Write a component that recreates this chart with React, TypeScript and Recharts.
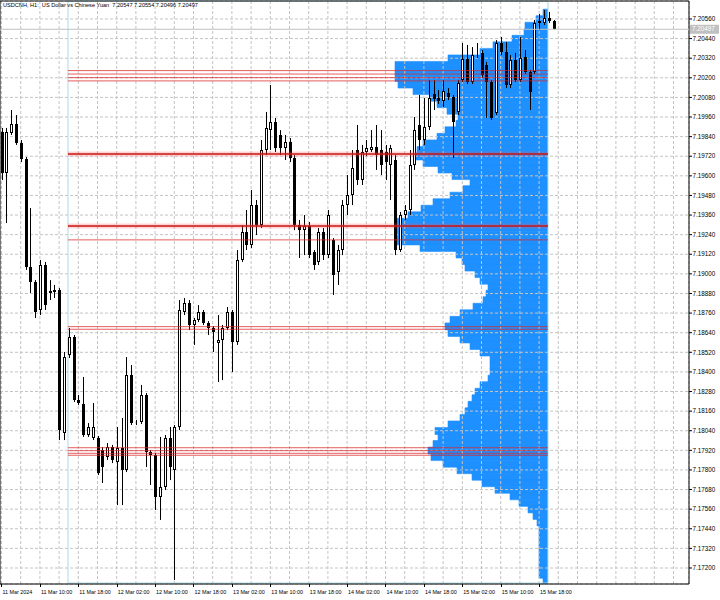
import React from "react";
import {
  ComposedChart,
  Bar,
  XAxis,
  YAxis,
  CartesianGrid,
  ReferenceLine,
  ReferenceArea,
} from "recharts";

// USDCNH H1 bars, 11 Mar 02:00 .. 15 Mar 21:00
const open = [
  7.19868, 7.19617, 7.19862, 7.19917, 7.19801, 7.19703, 7.19042, 7.1895, 7.18779, 7.19054,
  7.18883, 7.18889, 7.18901, 7.18026, 7.18503, 7.18614, 7.18228, 7.18204, 7.18014, 7.17995,
  7.17995, 7.17922, 7.17879, 7.1794, 7.17849, 7.17934, 7.178, 7.18381, 7.18087, 7.18093,
  7.18259, 7.1791, 7.17891, 7.17634, 7.17696, 7.17995, 7.178, 7.18063, 7.18767, 7.18822,
  7.18687, 7.18718, 7.18767, 7.18699, 7.18669, 7.18577, 7.18595, 7.18669, 7.18767, 7.18583,
  7.19085, 7.19256, 7.19177, 7.19421, 7.19299, 7.19758, 7.1988, 7.19929, 7.1985, 7.1977,
  7.19807, 7.19709, 7.19299, 7.19268, 7.19293, 7.19134, 7.19073, 7.19256, 7.19115, 7.19207,
  7.19011, 7.19146, 7.19421, 7.19483, 7.19758, 7.19574, 7.19746, 7.19758, 7.19776, 7.19758,
  7.19746, 7.19666, 7.19697, 7.19146, 7.1936, 7.19391, 7.19666, 7.19911, 7.19819, 7.19899,
  7.20101, 7.20076, 7.20058, 7.20107, 7.20082, 7.19991, 7.20186, 7.20315, 7.20174, 7.20352,
  7.20352, 7.20278, 7.20174, 7.19984, 7.20413, 7.20358, 7.20156, 7.20309, 7.20186, 7.20327,
  7.20235, 7.20235, 7.20535, 7.20535, 7.20566, 7.20547,
];
const high = [
  7.19893, 7.19893, 7.20003, 7.19972, 7.19819, 7.19715, 7.19403, 7.18962, 7.19085, 7.19073,
  7.18962, 7.18932, 7.18913, 7.18522, 7.18669, 7.18626, 7.18259, 7.18369, 7.18087, 7.1821,
  7.18008, 7.1794, 7.17965, 7.17953, 7.18063, 7.18118, 7.18491, 7.18442, 7.18106, 7.1832,
  7.18271, 7.17922, 7.17904, 7.18002, 7.18014, 7.18063, 7.18075, 7.1884, 7.18852, 7.1884,
  7.1873, 7.18809, 7.18779, 7.18711, 7.18681, 7.18748, 7.18687, 7.18797, 7.18779, 7.19146,
  7.19299, 7.19391, 7.19513, 7.19452, 7.19819, 7.19991, 7.20156, 7.19954, 7.1988, 7.1985,
  7.19831, 7.19727, 7.1933, 7.1936, 7.19317, 7.19146, 7.19281, 7.19281, 7.19391, 7.19219,
  7.19177, 7.19452, 7.19605, 7.19758, 7.19911, 7.19789, 7.19819, 7.1988, 7.19911, 7.1988,
  7.19789, 7.19789, 7.19727, 7.19379, 7.19421, 7.19758, 7.1996, 7.20095, 7.20076, 7.20186,
  7.20186, 7.20125, 7.20186, 7.20137, 7.20095, 7.20186, 7.20413, 7.20401, 7.20388, 7.20413,
  7.2037, 7.20297, 7.20186, 7.20431, 7.2045, 7.20419, 7.20339, 7.20352, 7.2045, 7.2037,
  7.20248, 7.20554, 7.2059, 7.20615, 7.20603, 7.20554,
];
const low = [
  7.19574, 7.19311, 7.1985, 7.19789, 7.19685, 7.19024, 7.18883, 7.1873, 7.18748, 7.18779,
  7.1884, 7.18852, 7.17983, 7.17983, 7.18485, 7.18216, 7.18197, 7.18002, 7.18002, 7.17983,
  7.17769, 7.1772, 7.17861, 7.17842, 7.17585, 7.17585, 7.17787, 7.18075, 7.18075, 7.18081,
  7.17818, 7.17708, 7.17555, 7.17494, 7.17677, 7.17738, 7.17126, 7.18044, 7.18748, 7.18656,
  7.18565, 7.18705, 7.18687, 7.18626, 7.18522, 7.18338, 7.1835, 7.18656, 7.18399, 7.18565,
  7.19073, 7.19146, 7.19158, 7.19238, 7.19281, 7.19727, 7.19758, 7.19746, 7.19727, 7.19697,
  7.19685, 7.19268, 7.19097, 7.19115, 7.19097, 7.19024, 7.19054, 7.19085, 7.19097, 7.18871,
  7.18932, 7.19115, 7.1936, 7.19421, 7.19544, 7.19544, 7.19721, 7.19746, 7.19636, 7.19605,
  7.19574, 7.19452, 7.19115, 7.19134, 7.1933, 7.1936, 7.19636, 7.19758, 7.19789, 7.1988,
  7.20003, 7.2004, 7.20021, 7.20064, 7.19709, 7.19972, 7.20174, 7.20162, 7.20162, 7.20321,
  7.20199, 7.19954, 7.19942, 7.19972, 7.20339, 7.20137, 7.20137, 7.20174, 7.20174, 7.20223,
  7.20003, 7.20223, 7.20492, 7.20523, 7.20535, 7.20496,
];
const close = [
  7.19617, 7.19868, 7.19917, 7.19801, 7.19703, 7.19042, 7.1895, 7.18767, 7.19054, 7.18809,
  7.18895, 7.18901, 7.18044, 7.18491, 7.18614, 7.18228, 7.1821, 7.18014, 7.18063, 7.18063,
  7.17781, 7.17818, 7.1794, 7.17861, 7.17934, 7.178, 7.18381, 7.18087, 7.18093, 7.18259,
  7.1791, 7.17891, 7.17634, 7.17696, 7.17995, 7.17818, 7.18063, 7.18779, 7.18822, 7.18687,
  7.18718, 7.18767, 7.18699, 7.18669, 7.18644, 7.18595, 7.18669, 7.18767, 7.18583, 7.19085,
  7.19256, 7.19177, 7.19421, 7.19299, 7.19758, 7.19893, 7.19929, 7.1977, 7.1977, 7.19807,
  7.19709, 7.19299, 7.19268, 7.19293, 7.19115, 7.19054, 7.19256, 7.19115, 7.1936, 7.18993,
  7.19146, 7.19421, 7.19483, 7.19648, 7.19574, 7.19746, 7.1977, 7.19776, 7.19727, 7.19666,
  7.19685, 7.1977, 7.19146, 7.1936, 7.19391, 7.19666, 7.1988, 7.19819, 7.19899, 7.20076,
  7.2007, 7.20058, 7.20119, 7.20082, 7.19929, 7.20168, 7.20315, 7.20174, 7.20339, 7.20346,
  7.20217, 7.20174, 7.19954, 7.20413, 7.20358, 7.20156, 7.20309, 7.20186, 7.20321, 7.20235,
  7.20113, 7.20535, 7.20547, 7.20566, 7.20547, 7.20497,
];

// volume profile (tick volume per price bin)
const vpPrice = [
  7.206, 7.2056, 7.2052, 7.2048, 7.2044, 7.204, 7.2036, 7.2032, 7.2028, 7.2024,
  7.202, 7.2016, 7.2012, 7.2008, 7.2004, 7.2, 7.1996, 7.1992, 7.1988, 7.1984,
  7.198, 7.1976, 7.1972, 7.1968, 7.1964, 7.196, 7.1956, 7.1952, 7.1948, 7.1944,
  7.194, 7.1936, 7.1932, 7.1928, 7.1924, 7.192, 7.1916, 7.1912, 7.1908, 7.1904,
  7.19, 7.1896, 7.1892, 7.1888, 7.1884, 7.188, 7.1876, 7.1872, 7.1868, 7.1864,
  7.186, 7.1856, 7.1852, 7.1848, 7.1844, 7.184, 7.1836, 7.1832, 7.1828, 7.1824,
  7.182, 7.1816, 7.1812, 7.1808, 7.1804, 7.18, 7.1796, 7.1792, 7.1788, 7.1784,
  7.178, 7.1776, 7.1772, 7.1768, 7.1764, 7.176, 7.1756, 7.1752, 7.1748, 7.1744,
  7.174, 7.1736, 7.1732, 7.1728, 7.1724, 7.172, 7.1716, 7.1712,
];
const vpVolume = [
  5, 12, 23, 24, 36, 55, 68, 100, 153, 153,
  153, 150, 135, 118, 111, 101, 90, 92, 103, 111,
  125, 131, 133, 125, 110, 96, 78, 85, 98, 115,
  127, 140, 151, 151, 151, 151, 128, 92, 86, 83,
  73, 68, 60, 62, 65, 75, 88, 98, 103, 100,
  88, 78, 68, 58, 58, 58, 60, 68, 73, 76,
  80, 83, 88, 100, 113, 110, 115, 120, 117, 105,
  91, 76, 66, 53, 38, 29, 20, 15, 11, 9,
  9, 9, 9, 9, 9, 9, 9, 5,
];

// horizontal levels drawn over the profile range
const levelPrice = [
  7.20244, 7.20223, 7.20201, 7.20181, 7.19734, 7.19293, 7.19208,
  7.18677, 7.18661, 7.17936, 7.17918, 7.17902, 7.1789,
];
const levelWeight = [1, 1, 1, 1, 2, 2, 1, 1, 1, 1, 1, 1, 1];
const rangeStart = 13.85;
const rangeEnd = 113.85;

const priceTicks = [
  7.172, 7.1732, 7.1744, 7.1756, 7.1768, 7.178, 7.1792, 7.1804, 7.1816, 7.1828,
  7.184, 7.1852, 7.1864, 7.1876, 7.1888, 7.19, 7.1912, 7.1924, 7.1936, 7.1948,
  7.196, 7.1972, 7.1984, 7.1996, 7.2008, 7.202, 7.2032, 7.2044, 7.2056,
];
const timeLabels = [
  "11 Mar 2024", "11 Mar 10:00", "11 Mar 18:00", "12 Mar 02:00", "12 Mar 10:00",
  "12 Mar 18:00", "13 Mar 02:00", "13 Mar 10:00", "13 Mar 18:00", "14 Mar 02:00",
  "14 Mar 10:00", "14 Mar 18:00", "15 Mar 02:00", "15 Mar 10:00", "15 Mar 18:00",
];
const gridTicks = Array.from({ length: 36 }, (_, k) => k * 4);

const yDomain: [number, number] = [7.17102, 7.2067];
const xDomain: [number, number] = [-0.3125, 143.23];
const FONT = "Liberation Sans, Arial, sans-serif";

const bars = open.map((o, i) => ({ i, o, h: high[i], l: low[i], c: close[i] }));
const profile = vpPrice.map((price, k) => ({ price, vol: vpVolume[k] }));
const last = bars[bars.length - 1];

function Candle(props: any) {
  const { x, y, width, height, payload } = props;
  const { o, h, l, c } = payload;
  const top = Math.min(y, y + height);
  const span = Math.abs(height);
  const k = h === l ? 0 : span / (h - l);
  const left = Math.round(x + width / 2) - 1;
  const yo = top + (h - o) * k;
  const yc = top + (h - c) * k;
  const bt = Math.round(Math.min(yo, yc));
  const bb = Math.max(Math.round(Math.max(yo, yc)), bt + 1);
  return (
    <g>
      <line x1={left + 1.5} x2={left + 1.5} y1={top} y2={top + span} stroke="#000" strokeWidth={1} />
      <rect
        x={left + 0.5}
        y={bt + 0.5}
        width={2}
        height={Math.max(bb - bt - 1, 0)}
        fill={c >= o ? "#fff" : "#000"}
        stroke="#000"
        strokeWidth={1}
      />
    </g>
  );
}

function PriceTick(props: any) {
  const { x, y, payload } = props;
  return (
    <g>
      <line x1={x} x2={x + 3} y1={y} y2={y} stroke="#000" />
      <text x={x + 3.5} y={y + 2.2} fontSize={6.3} fontFamily={FONT} fill="#000">
        {payload.value.toFixed(5)}
      </text>
    </g>
  );
}

function TimeTick(props: any) {
  const { x, y, payload } = props;
  const idx = payload.value / 8;
  const label = Number.isInteger(idx) ? timeLabels[idx] : undefined;
  if (!label) return <g />;
  return (
    <g>
      <line x1={Math.round(x) + 0.5} x2={Math.round(x) + 0.5} y1={y} y2={y + 3} stroke="#000" />
      <text x={x + 1} y={y + 9.5} fontSize={5.4} fontFamily={FONT} fill="#000">
        {label}
      </text>
    </g>
  );
}

function BidTag(props: any) {
  const { viewBox } = props;
  const x = viewBox.x + viewBox.width;
  const y = viewBox.y;
  return (
    <g>
      <rect x={x + 1} y={y - 4.5} width={29} height={9} fill="#c0c0c0" />
      <text x={x + 3} y={y + 2.2} fontSize={6.3} fontFamily={FONT} fill="#fff">
        {last.c.toFixed(5)}
      </text>
    </g>
  );
}

export default function App() {
  return (
    <div style={{ position: "relative", width: 720, height: 600, background: "#fff" }}>
      <style>{"body{margin:0}"}</style>
      <div style={{ position: "absolute", left: 0, top: 0 }}>
        <ComposedChart
          layout="vertical"
          width={720}
          height={600}
          data={profile}
          margin={{ top: 1, right: 172, bottom: 16, left: 0 }}
          barCategoryGap={0}
        >
          <XAxis type="number" dataKey="vol" domain={[0, 548]} reversed hide allowDataOverflow />
          <YAxis type="number" dataKey="price" domain={yDomain} reversed hide allowDataOverflow />
          <Bar dataKey="vol" fill="#1e90ff" stroke="#1e90ff" strokeWidth={0.6} isAnimationActive={false} />
        </ComposedChart>
      </div>
      <div style={{ position: "absolute", left: 0, top: 0 }}>
        <ComposedChart
          width={720}
          height={600}
          data={bars}
          margin={{ top: 1, right: 0, bottom: 0, left: 0 }}
        >
          <CartesianGrid stroke="#c4c4c4" strokeDasharray="3 2" />
          <XAxis
            type="number"
            dataKey="i"
            domain={xDomain}
            allowDataOverflow
            ticks={gridTicks}
            interval={0}
            height={16}
            tickSize={0}
            tickMargin={0}
            axisLine={false}
            tick={<TimeTick />}
          />
          <YAxis
            type="number"
            orientation="right"
            domain={yDomain}
            allowDataOverflow
            ticks={priceTicks}
            interval={0}
            width={31}
            tickSize={0}
            tickMargin={0}
            axisLine={false}
            tick={<PriceTick />}
          />
          <ReferenceArea
            x1={rangeStart}
            x2={rangeEnd}
            y1={yDomain[0] + 0.00006}
            y2={yDomain[1]}
            fill="none"
            stroke="#a9dbe6"
            strokeWidth={1}
          />
          <ReferenceLine y={last.c} stroke="#c0c0c0" strokeWidth={1} label={<BidTag />} />
          {levelPrice.map((p, k) =>
            levelWeight[k] > 1 ? (
              <ReferenceLine
                key={"h" + k}
                segment={[{ x: rangeStart, y: p }, { x: rangeEnd, y: p }]}
                stroke="rgba(255,80,80,0.25)"
                strokeWidth={5}
              />
            ) : null
          )}
          {levelPrice.map((p, k) => (
            <ReferenceLine
              key={"l" + k}
              segment={[{ x: rangeStart, y: p }, { x: rangeEnd, y: p }]}
              stroke={levelWeight[k] > 1 ? "#c81414" : "rgba(220,40,40,0.75)"}
              strokeWidth={levelWeight[k] > 1 ? 1.6 : 1}
            />
          ))}
          <Bar dataKey={(d: any) => [d.l, d.h]} shape={<Candle />} isAnimationActive={false} />
          <ReferenceArea
            x1={xDomain[0]}
            x2={xDomain[1]}
            y1={yDomain[0]}
            y2={yDomain[1]}
            fill="none"
            stroke="#000"
            strokeWidth={1}
          />
        </ComposedChart>
      </div>
      <div
        style={{
          position: "absolute",
          left: 3,
          top: 3,
          fontFamily: FONT,
          fontSize: 5.6,
          lineHeight: 1,
          whiteSpace: "pre",
          color: "#000",
        }}
      >
        {`USDCNH, H1:  US Dollar vs Chinese Yuan  ${last.o.toFixed(5)} ${last.h.toFixed(5)} ${last.l.toFixed(5)} ${last.c.toFixed(5)}`}
      </div>
    </div>
  );
}
